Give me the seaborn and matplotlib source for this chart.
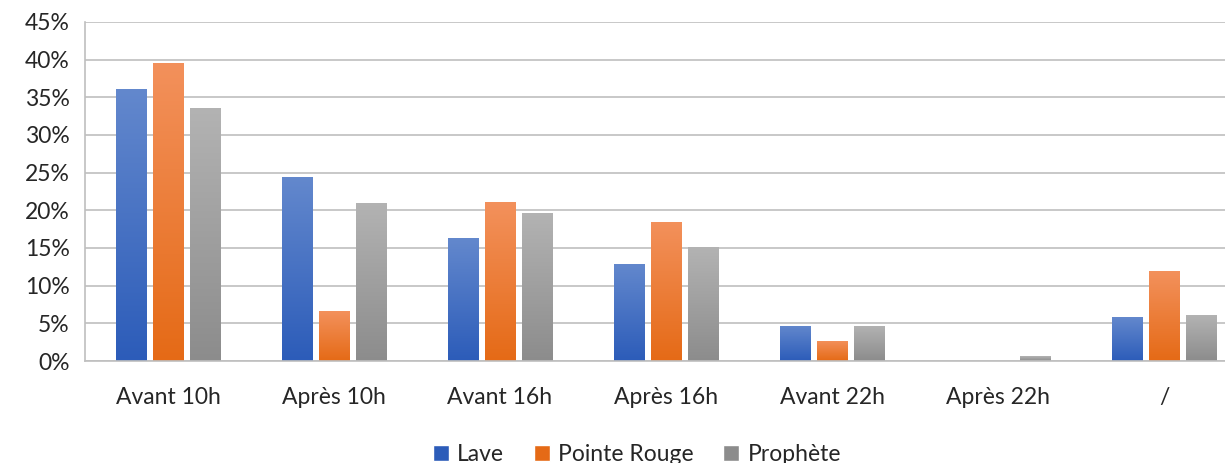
import numpy as np
import pandas as pd
import matplotlib
matplotlib.use("Agg")
import matplotlib.pyplot as plt
import seaborn as sns
from matplotlib.colors import LinearSegmentedColormap
from matplotlib.patches import Patch
from matplotlib.ticker import PercentFormatter, FixedLocator

categories = ["Avant 10h", "Après 10h", "Avant 16h", "Après 16h", "Avant 22h", "Après 22h", "/"]
series = ["Lave", "Pointe Rouge", "Prophète"]
lave = [36.1, 24.4, 16.3, 12.9, 4.7, 0.0, 5.8]
pointe_rouge = [39.6, 6.6, 21.1, 18.5, 2.7, 0.0, 11.9]
prophete = [33.6, 21.0, 19.7, 15.1, 4.7, 0.6, 6.1]

# top / bottom colours of the gradient fill
grad = {
    "Lave": ("#6388cd", "#2c5cb9"),
    "Pointe Rouge": ("#f3915c", "#e56a16"),
    "Prophète": ("#b3b3b3", "#8c8c8c"),
}

df = pd.DataFrame({
    "cat": categories * 3,
    "serie": ["Lave"] * 7 + ["Pointe Rouge"] * 7 + ["Prophète"] * 7,
    "val": lave + pointe_rouge + prophete,
})

sns.set_style("white")
plt.rcParams["font.family"] = ["Lato", "DejaVu Sans"]
FS = 16.5

fig = plt.figure(figsize=(12.25, 4.63), dpi=100)
# plot area runs a little past the right edge, as in the original crop
ax = fig.add_axes([0.0694, 0.2203, 0.9486, 0.7322])

mid = {k: v[0] for k, v in grad.items()}
sns.barplot(data=df, x="cat", y="val", hue="serie", order=categories,
            hue_order=series, palette=mid, width=0.663, gap=0.18,
            legend=False, ax=ax, errorbar=None)

# gradient fill for every bar
for cont, name in zip(ax.containers, series):
    cmap = LinearSegmentedColormap.from_list(name, [grad[name][1], grad[name][0]])
    for bar in cont:
        x0, y0 = bar.get_x(), bar.get_y()
        w, h = bar.get_width(), bar.get_height()
        if h <= 0:
            bar.set_visible(False)
            continue
        img = ax.imshow(np.linspace(0, 1, 256).reshape(-1, 1), cmap=cmap,
                        extent=[x0, x0 + w, y0, y0 + h], origin="lower",
                        aspect="auto", zorder=bar.get_zorder())
        img.set_clip_path(bar)
        bar.set_facecolor("none")
        bar.set_edgecolor("none")

ax.set_aspect("auto")
ax.set_xlim(-0.5, 6.5)
ax.set_ylim(0, 45)

ax.set_yticks(np.arange(0, 46, 5))
ax.yaxis.set_major_formatter(PercentFormatter(decimals=0))
ax.grid(axis="y", color="#bfbfbf", linewidth=1.2)
ax.set_axisbelow(True)
ax.tick_params(axis="y", length=8, width=1.2, color="#bfbfbf", labelsize=FS, pad=3)

ax.xaxis.set_minor_locator(FixedLocator(np.arange(-0.5, 7, 1)))
ax.tick_params(axis="x", which="major", length=0, labelsize=FS, pad=19)
ax.tick_params(axis="x", which="minor", length=8, width=1.2, color="#bfbfbf")
ax.set_xlabel("")
ax.set_ylabel("")

for s in ["top", "right"]:
    ax.spines[s].set_visible(False)
for s in ["left", "bottom"]:
    ax.spines[s].set_color("#bfbfbf")
    ax.spines[s].set_linewidth(1.2)

handles = [Patch(facecolor=grad[n][1], label=n) for n in series]
fig.legend(handles=handles, loc="lower center", bbox_to_anchor=(0.52, -0.048),
           ncol=3, frameon=False, fontsize=FS, handlelength=0.7, handleheight=0.7,
           handletextpad=0.35, columnspacing=1.3)

fig.savefig("out.png", dpi=100)
